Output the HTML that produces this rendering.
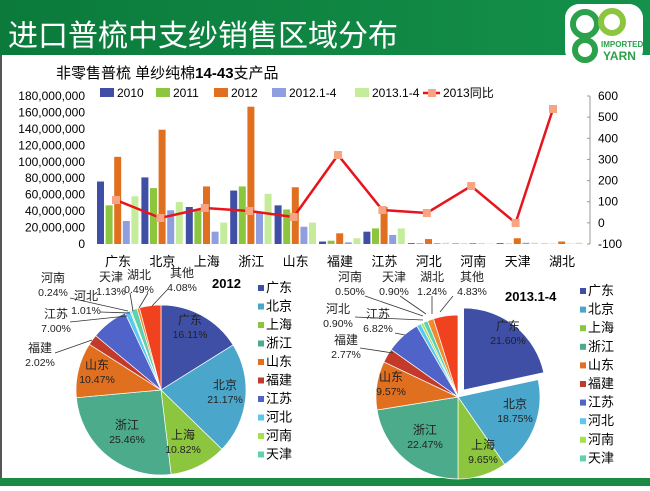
<!DOCTYPE html>
<html><head><meta charset="utf-8"><style>
body{margin:0;width:650px;height:486px;overflow:hidden;background:#fff;font-family:"Liberation Sans","Noto Sans CJK SC",sans-serif}
svg text{font-family:"Liberation Sans","Noto Sans CJK SC",sans-serif}
</style></head><body>
<svg id="s" width="650" height="486" xmlns="http://www.w3.org/2000/svg">
<defs><linearGradient id="hg" x1="0" x2="1"><stop offset="0" stop-color="#0b7a3b"/><stop offset="1" stop-color="#14914a"/></linearGradient></defs>
<rect x="0" y="0" width="650" height="55" fill="url(#hg)"/>
<rect x="0" y="55" width="2" height="425" fill="#555"/>
<rect x="0" y="478" width="650" height="8" fill="#1b8a45"/>
<text x="8" y="46" font-size="30" fill="#fff">进口普梳中支纱销售区域分布</text>
<rect x="565" y="4" width="78" height="60" rx="14" fill="#fff"/>
<circle cx="585" cy="24" r="12" fill="none" stroke="#2aa14a" stroke-width="6"/>
<circle cx="612" cy="22" r="11" fill="none" stroke="#8cc63f" stroke-width="6"/>
<circle cx="585" cy="50" r="10" fill="none" stroke="#2aa14a" stroke-width="6"/>
<text x="601" y="47" font-size="8" fill="#2aa14a" font-weight="bold">IMPORTED</text>
<text x="603" y="60" font-size="12" fill="#2aa14a" font-weight="bold">YARN</text>
<text x="56" y="78" font-size="15" fill="#000">非零售普梳 单纱纯棉<tspan font-weight="bold">14-43</tspan>支产品</text>
<g id="bar"></g>
<g id="pies"></g>
</svg>
<script>
const g=document.getElementById('bar'),P=document.getElementById('pies');
let h='';
const y0=244,sc=148/180;
for(let i=0;i<=9;i++){const v=i*20;h+=`<text x="85" y="${y0-v*sc+4}" font-size="12" text-anchor="end">${v==0?'0':(v+',000,000')}</text>`;}
h+=`<line x1="590" y1="96" x2="590" y2="244" stroke="#999"/>`;
for(let i=0;i<=7;i++){const v=600-i*100,y=96+i*148/7;h+=`<line x1="587" y1="${y}" x2="590" y2="${y}" stroke="#999"/><text x="598" y="${y+4}" font-size="12">${v}</text>`;}
const cats=['广东','北京','上海','浙江','山东','福建','江苏','河北','河南','天津','湖北'];
const cols=['#3f4fa6','#8cc63f','#e07020','#8f9ede','#c5ec9a'];
const d=[[76,47,106,28,58],[81,68,139,41,51],[45,42,70,15,26],[65,70,167,38,61],[47,42,69,21,26],[3,4,13,2,7],[15,19,45,11,19],[1,1,6,1,1.5],[.5,.5,1,.5,.5],[1,.5,7,1.5,1.5],[.3,.3,3,.3,1.5]];
const ln=[200,218,208,211,217,155,210,213,186,223,109];
let pts=[];
cats.forEach((c,i)=>{const cx=118+i*44.4;
d[i].forEach((v,j)=>{const hh=v*sc;h+=`<rect x="${cx-21+j*8.6}" y="${y0-hh}" width="7" height="${hh}" fill="${cols[j]}"/>`;});
h+=`<text x="${cx}" y="266" font-size="13" text-anchor="middle">${c}</text>`;
pts.push([i==10?553:cx-2,ln[i]]);});
h+=`<polyline points="${pts.map(p=>p.join(',')).join(' ')}" fill="none" stroke="#e8141c" stroke-width="2.5"/>`;
pts.forEach(p=>h+=`<rect x="${p[0]-4}" y="${p[1]-4}" width="8" height="8" fill="#f7a483"/>`);
const lg=[[100,'2010',0],[156,'2011',1],[214,'2012',2],[272,'2012.1-4',3],[355,'2013.1-4',4]];
lg.forEach(l=>h+=`<rect x="${l[0]}" y="88" width="14" height="9" fill="${cols[l[2]]}"/><text x="${l[0]+17}" y="97" font-size="12">${l[1]}</text>`);
h+=`<line x1="423" y1="93" x2="440" y2="93" stroke="#e8141c" stroke-width="2.5"/><rect x="428" y="89" width="8" height="8" fill="#f7a483"/><text x="443" y="97" font-size="12">2013同比</text>`;
g.innerHTML=h;
const pc=['#3f4fa6','#4ba6cc','#8cc63f','#4bab8a','#e07020','#c33a2a','#4f63c9','#5cc8f0','#a8e050','#5fd0b0','#f08a30','#f0421f'];
const nm=['广东','北京','上海','浙江','山东','福建','江苏','河北','河南','天津'];
function pie(cx,cy,r,vals,ex){let a=0,s='';vals.forEach((v,i)=>{const a1=a+v/100*2*Math.PI;let ox=0,oy=0;if(i==0&&ex){const m=(a+a1)/2;ox=ex*Math.sin(m);oy=-ex*Math.cos(m);}
const x0=cx+ox+r*Math.sin(a),yy0=cy+oy-r*Math.cos(a),x1=cx+ox+r*Math.sin(a1),yy1=cy+oy-r*Math.cos(a1);
s+=`<path d="M${cx+ox},${cy+oy}L${x0},${yy0}A${r},${r} 0 ${a1-a>Math.PI?1:0} 1 ${x1},${yy1}Z" fill="${pc[i]}" stroke="#fff" stroke-width="0.7"/>`;a=a1;});return s;}
let q='';
q+=pie(161,390,85,[16.11,21.17,10.82,25.46,10.47,2.02,7.00,1.01,0.24,1.13,0.49,4.08],0);
q+=pie(458,397,82,[21.60,18.75,9.65,22.47,9.57,2.77,6.82,0.90,0.50,0.90,1.24,4.83],9);
function lab(x,y,a,b){return `<text x="${x}" y="${y}" font-size="12" text-anchor="middle" fill="#222">${a}</text><text x="${x}" y="${y+14}" font-size="10.5" text-anchor="middle" fill="#222">${b}</text>`;}
[[190,324,'广东','16.11%'],[225,389,'北京','21.17%'],[183,439,'上海','10.82%'],[127,429,'浙江','25.46%'],[97,369,'山东','10.47%'],
[53,282,'河南','0.24%'],[111,281,'天津','1.13%'],[139,279,'湖北','0.49%'],[182,277,'其他','4.08%'],[86,300,'河北','1.01%'],[56,318,'江苏','7.00%'],[40,352,'福建','2.02%'],
[508,330,'广东','21.60%'],[515,408,'北京','18.75%'],[483,449,'上海','9.65%'],[425,434,'浙江','22.47%'],[391,381,'山东','9.57%'],
[350,281,'河南','0.50%'],[394,281,'天津','0.90%'],[432,281,'湖北','1.24%'],[472,281,'其他','4.83%'],[338,313,'河北','0.90%'],[378,318,'江苏','6.82%'],[346,344,'福建','2.77%']]
.forEach(l=>q+=lab(l[0],l[1],l[2],l[3]));
const ll=[[70,298,128,311],[100,312,130,313],[70,322,127,316],[55,353,92,340],[130,293,133,311],[148,293,139,308],[168,289,152,306],
[365,296,423,316],[400,296,426,314],[432,296,432,314],[453,296,440,312],[355,317,423,320],[395,333,405,335],[360,348,393,353]];
ll.forEach(l=>q+=`<line x1="${l[0]}" y1="${l[1]}" x2="${l[2]}" y2="${l[3]}" stroke="#333" stroke-width="0.8"/>`);
q+=`<text x="212" y="288" font-size="13" font-weight="bold">2012</text><text x="505" y="301" font-size="13" font-weight="bold">2013.1-4</text>`;
nm.forEach((n,i)=>{q+=`<rect x="258" y="${285+i*18.5}" width="6" height="6" fill="${pc[i]}"/><text x="266" y="${292+i*18.5}" font-size="13">${n}</text>`;
q+=`<rect x="580" y="${288+i*18.6}" width="6" height="6" fill="${pc[i]}"/><text x="588" y="${295+i*18.6}" font-size="13">${n}</text>`;});
P.innerHTML=q;
</script>
</body></html>
